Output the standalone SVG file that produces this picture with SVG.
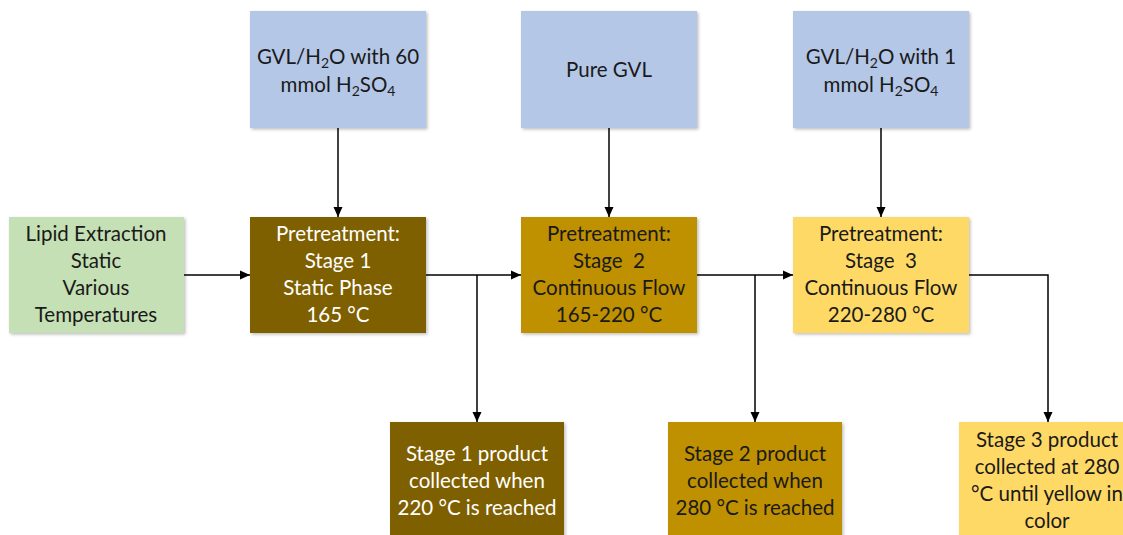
<svg xmlns="http://www.w3.org/2000/svg" width="1123" height="535" viewBox="0 0 1123 535">
<defs>
<filter id="sh" x="-10%" y="-10%" width="130%" height="130%">
<feDropShadow dx="1.5" dy="1.5" stdDeviation="1.5" flood-color="#000" flood-opacity="0.25"/>
</filter>
<marker id="ah" viewBox="0 0 10 10" refX="10" refY="5" markerWidth="10" markerHeight="10" markerUnits="userSpaceOnUse" orient="auto">
<path d="M0,0.5 L10,5 L0,9.5 Z" fill="#000"/>
</marker>
</defs>
<style>
.box{filter:url(#sh);}
.blue{fill:#B4C7E7;}
.green{fill:#C5E0B4;}
.s1{fill:#7F6000;}
.s2{fill:#BF9000;}
.s3{fill:#FFD966;}
text{font-family:Lato,"Open Sans","Liberation Sans",sans-serif;font-size:20.5px;text-anchor:middle;fill:#1a1a1a;}
text.w{fill:#ffffff;}
.sub{font-size:14px;}
.conn line,.conn polyline{stroke:#000;stroke-width:1.5;fill:none;}
</style>
<rect width="1123" height="535" fill="#ffffff"/>
<g class="conn" id="connectors">
<line x1="184" y1="275" x2="250" y2="275" marker-end="url(#ah)"/>
<line x1="338" y1="128" x2="338" y2="217" marker-end="url(#ah)"/>
<line x1="426" y1="275" x2="521" y2="275" marker-end="url(#ah)"/>
<line x1="477" y1="275" x2="477" y2="422" marker-end="url(#ah)"/>
<line x1="609" y1="128" x2="609" y2="217" marker-end="url(#ah)"/>
<line x1="697" y1="275" x2="793" y2="275" marker-end="url(#ah)"/>
<line x1="755" y1="275" x2="755" y2="422" marker-end="url(#ah)"/>
<line x1="881" y1="128" x2="881" y2="217" marker-end="url(#ah)"/>
<polyline points="969,275 1048,275 1048,422" marker-end="url(#ah)"/>
</g>
<g id="feed1">
<rect class="box blue" x="250" y="11" width="176" height="117"/>
<text x="338" y="64">GVL/H<tspan class="sub" dy="4">2</tspan><tspan dy="-4">O with 60</tspan></text>
<text x="338" y="92">mmol H<tspan class="sub" dy="4">2</tspan><tspan dy="-4">SO</tspan><tspan class="sub" dy="4">4</tspan></text>
</g>
<g id="feed2">
<rect class="box blue" x="521" y="11" width="176" height="117"/>
<text x="609" y="77">Pure GVL</text>
</g>
<g id="feed3">
<rect class="box blue" x="793" y="11" width="176" height="117"/>
<text x="881" y="64">GVL/H<tspan class="sub" dy="4">2</tspan><tspan dy="-4">O with 1</tspan></text>
<text x="881" y="92">mmol H<tspan class="sub" dy="4">2</tspan><tspan dy="-4">SO</tspan><tspan class="sub" dy="4">4</tspan></text>
</g>
<g id="lipid">
<rect class="box green" x="9" y="217" width="175" height="116"/>
<text x="96" y="241">Lipid Extraction</text>
<text x="96" y="268">Static</text>
<text x="96" y="295">Various</text>
<text x="96" y="322">Temperatures</text>
</g>
<g id="stage1">
<rect class="box s1" x="250" y="217" width="176" height="116"/>
<text class="w" x="338" y="241">Pretreatment:</text>
<text class="w" x="338" y="268">Stage 1</text>
<text class="w" x="338" y="295">Static Phase</text>
<text class="w" x="338" y="322">165 °C</text>
</g>
<g id="stage2">
<rect class="box s2" x="521" y="217" width="176" height="116"/>
<text x="609" y="241">Pretreatment:</text>
<text x="609" y="268" xml:space="preserve">Stage  2</text>
<text x="609" y="295">Continuous Flow</text>
<text x="609" y="322">165-220 °C</text>
</g>
<g id="stage3">
<rect class="box s3" x="793" y="217" width="176" height="116"/>
<text x="881" y="241">Pretreatment:</text>
<text x="881" y="268" xml:space="preserve">Stage  3</text>
<text x="881" y="295">Continuous Flow</text>
<text x="881" y="322">220-280 °C</text>
</g>
<g id="product1">
<rect class="box s1" x="390" y="422" width="174" height="120"/>
<text class="w" x="477" y="461">Stage 1 product</text>
<text class="w" x="477" y="488">collected when</text>
<text class="w" x="477" y="515">220 °C is reached</text>
</g>
<g id="product2">
<rect class="box s2" x="668" y="422" width="174" height="120"/>
<text x="755" y="461">Stage 2 product</text>
<text x="755" y="488">collected when</text>
<text x="755" y="515">280 °C is reached</text>
</g>
<g id="product3">
<rect class="box s3" x="959" y="422" width="176" height="120"/>
<text x="1047" y="447">Stage 3 product</text>
<text x="1047" y="474">collected at 280</text>
<text x="1047" y="501">°C until yellow in</text>
<text x="1047" y="528">color</text>
</g>
</svg>
